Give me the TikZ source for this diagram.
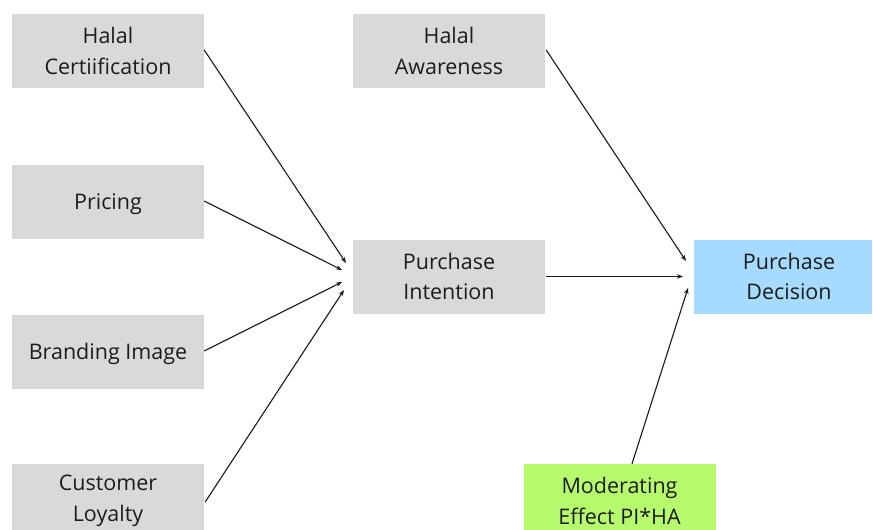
\documentclass[tikz,border=0pt]{standalone}
\usepackage{fontspec}
\setmainfont{Open Sans}
\usetikzlibrary{arrows.meta,calc}
\definecolor{boxgray}{HTML}{D9D9D9}
\definecolor{boxblue}{HTML}{A6DAFF}
\definecolor{boxgreen}{HTML}{B6FB6E}
\definecolor{txt}{HTML}{1C1C1C}
\tikzset{
  var/.style={rectangle, fill=boxgray, minimum width=192pt, minimum height=74pt,
    inner sep=0pt, align=center, text=txt,
    font=\fontsize{21.5pt}{30.5pt}\selectfont},
  oneline/.style={text depth=0pt},
  conn/.style={draw=black!90, line width=1.1pt, -{Stealth[length=6pt,width=4.5pt]}}
}
\begin{document}
\begin{tikzpicture}[x=1pt,y=-1pt]
\useasboundingbox (0,0) rectangle (873,530);
\fill[white] (0,0) rectangle (873,530);
\clip (0,0) rectangle (873,530);
\node[var] (hc) at (108,51) {Halal\\Certiification};
\node[var, oneline] (pr) at (108,201.5) {Pricing};
\node[var, oneline] (bi) at (108,351.5) {Branding Image};
\node[var] (cl) at (108,501) {Customer\\Loyalty};
\node[var] (ha) at (449,51) {Halal\\Awareness};
\node[var] (pi) at (449,276.5) {Purchase\\Intention};
\node[var, fill=boxblue, minimum width=178pt] (pd) at (783,276.5) {\hspace*{12pt}Purchase\\\hspace*{12pt}Decision};
\node[var, fill=boxgreen] (me) at (619.5,501) {Moderating\\Effect PI*HA};
\coordinate (p1) at (346,263);
\coordinate (p2) at (342,270);
\coordinate (p3) at (342,282);
\coordinate (p4) at (344,290);
\coordinate (d1) at (686,261);
\coordinate (d2) at (683,276.5);
\coordinate (d3) at (688,288);
\draw[conn] ([yshift=1pt]hc.east) -- (p1);
\draw[conn] ([yshift=0.5pt]pr.east) -- (p2);
\draw[conn] ([yshift=0.5pt]bi.east) -- (p3);
\draw[conn] ([xshift=1pt,yshift=-1pt]cl.east) -- (p4);
\draw[conn] ([xshift=1pt,yshift=1pt]ha.east) -- (d1);
\draw[conn] ([xshift=1pt]pi.east) -- (d2);
\draw[conn] ([xshift=12.5pt]me.north) -- (d3);
\end{tikzpicture}
\end{document}
